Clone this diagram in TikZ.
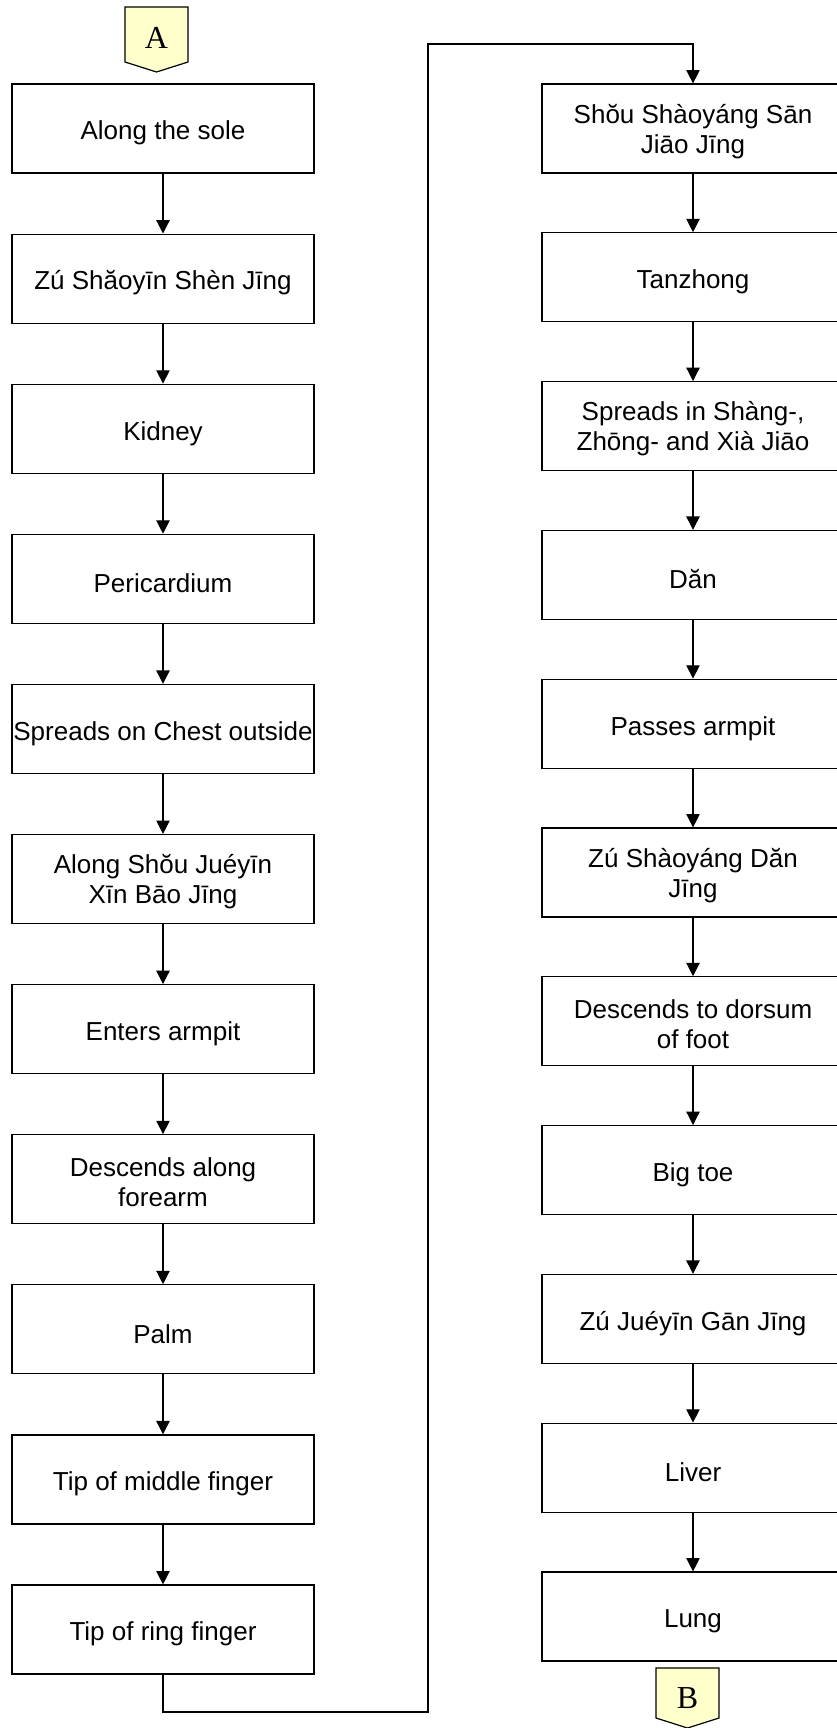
\documentclass[tikz,border=0pt]{standalone}
\usepackage{fontspec}
\setmainfont{Liberation Sans}
\newfontfamily\serifA{Liberation Serif}
\usetikzlibrary{arrows.meta}
\definecolor{tagyellow}{HTML}{FFFFCC}
\tikzset{
  stepbox/.style={draw, line width=0.9pt, minimum width=226.5pt, minimum height=66.75pt, inner sep=0pt, align=center, font=\fontsize{19.5}{22.5}\selectfont, execute at begin node={\rule{0pt}{#1}}},
  stepbox/.default=21pt,
  conn/.style={line width=0.9pt, -{Triangle[width=10pt,length=10pt]}},
  tag/.style={draw, line width=0.9pt, fill=tagyellow},
  tagtext/.style={inner sep=0pt, font=\serifA\fontsize{24}{24}\selectfont}
}
\begin{document}
\begin{tikzpicture}[x=0.75pt,y=-0.75pt]
\useasboundingbox (0,0) rectangle (837,1728);
% connector tags
\draw[tag] (125,7) -- (188,7) -- (188,62) -- (156.5,72) -- (125,62) -- cycle;
\node[tagtext] (A) at (156.5,38) {A};
\draw[tag] (656,1668) -- (719,1668) -- (719,1718) -- (687.5,1728) -- (656,1718) -- cycle;
\node[tagtext] (B) at (687.5,1698) {B};
% left column
\foreach \n/\t/\h [count=\i from 0] in {
  L0/{Along the sole}/21pt,
  L1/{Zú Shăoyīn Shèn Jīng}/21pt,
  L2/{Kidney}/21pt,
  L3/{Pericardium}/21pt,
  L4/{Spreads on Chest outside}/21pt,
  L5/{Along Shŏu Juéyīn\\Xīn Bāo Jīng}/41pt,
  L6/{Enters armpit}/21pt,
  L7/{Descends along\\forearm}/41pt,
  L8/{Palm}/21pt,
  L9/{Tip of middle finger}/21pt,
  L10/{Tip of ring finger}/21pt}
  \node[stepbox=\h] (\n) at (163,128.5+\i*150.1) {\t};
% right column
\foreach \n/\t/\h [count=\i from 0] in {
  R0/{Shŏu Shàoyáng Sān\\Jiāo Jīng}/41pt,
  R1/{Tanzhong}/21pt,
  R2/{Spreads in Shàng-,\\Zhōng- and Xià Jiāo}/41pt,
  R3/{Dăn}/21pt,
  R4/{Passes armpit}/21pt,
  R5/{Zú Shàoyáng Dăn\\Jīng}/41pt,
  R6/{Descends to dorsum\\of foot}/41pt,
  R7/{Big toe}/21pt,
  R8/{Zú Juéyīn Gān Jīng}/21pt,
  R9/{Liver}/21pt,
  R10/{Lung}/21pt}
  \node[stepbox=\h] (\n) at (693,128.5+\i*148.8) {\t};
% arrows
\foreach \a/\b in {0/1,1/2,2/3,3/4,4/5,5/6,6/7,7/8,8/9,9/10} {
  \draw[conn] (L\a.south) -- (L\b.north);
  \draw[conn] (R\a.south) -- (R\b.north);
}
\coordinate (c1) at (163,1712);
\coordinate (c2) at (428,1712);
\coordinate (c3) at (428,44);
\coordinate (c4) at (693,44);
\draw[conn] (L10.south) -- (c1) -- (c2) -- (c3) -- (c4) -- (R0.north);
\end{tikzpicture}
\end{document}
